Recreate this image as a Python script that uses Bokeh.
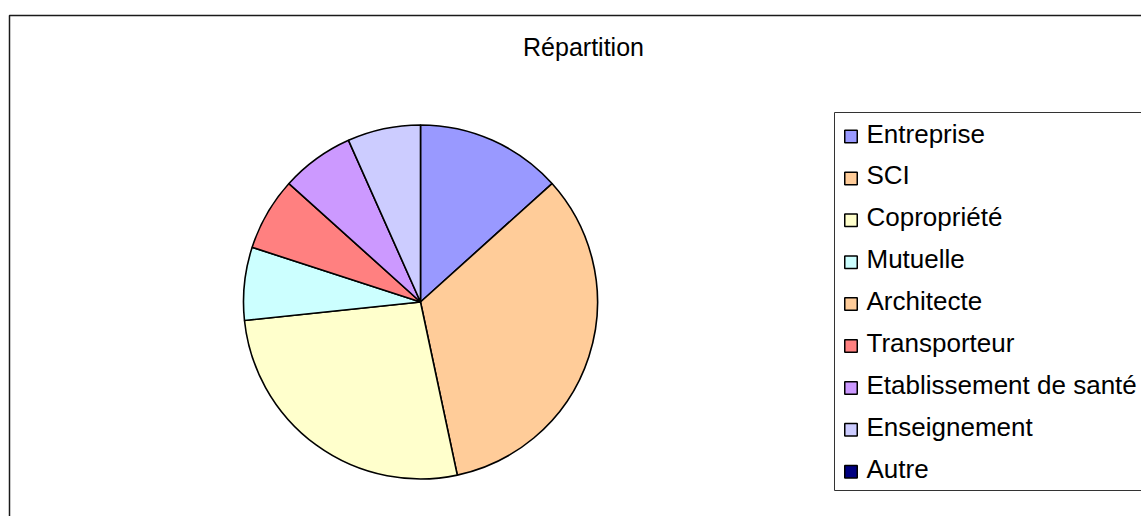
import numpy as np
from bokeh.plotting import figure
from bokeh.models import Range1d, ColumnDataSource
from bokeh.core.properties import value
from bokeh.embed import file_html
from bokeh.resources import INLINE

# ---- data ----
categories = ["Entreprise", "SCI", "Copropriété", "Mutuelle", "Architecte",
              "Transporteur", "Etablissement de santé", "Enseignement", "Autre"]
counts = [2, 5, 4, 1, 0, 1, 1, 1, 0]
colors = ["#9999FF", "#FFCC99", "#FFFFCC", "#CCFFFF", "#FFCC99",
          "#FF8080", "#CC99FF", "#CCCCFF", "#000080"]
title_text = "Répartition"

# ---- layout (figure pixels == data units) ----
W, H = 1141, 516
def sx(X):
    return X
def sy(Y):
    return H - Y

p = figure(width=W, height=H, x_range=Range1d(0, W), y_range=Range1d(0, H),
           output_backend="svg", toolbar_location=None, min_border=0,
           outline_line_color=None, background_fill_color="white",
           border_fill_color="white")
p.axis.visible = False
p.grid.visible = False

FONT = value("Liberation Sans")
TXT_DY = 9  # svg baseline correction

# outer chart frame (top and left edges; the rest lies outside the view)
p.line(x=[sx(9), sx(9), sx(1200)], y=[sy(700), sy(15), sy(15)],
       line_color="#1a1a1a", line_width=1.5)

# title
p.text(x=[sx(583)], y=[sy(55 - TXT_DY)], text=[title_text], text_font=FONT,
       text_font_size="25px", text_align="center", text_baseline="alphabetic",
       text_color="black")

# pie
vals = np.array(counts, dtype=float)
frac = vals / vals.sum()
cum_end = np.cumsum(frac) * 2 * np.pi
cum_start = cum_end - frac * 2 * np.pi
mask = vals > 0
src = ColumnDataSource(dict(
    start=(np.pi / 2 - cum_end)[mask],
    end=(np.pi / 2 - cum_start)[mask],
    color=np.array(colors)[mask],
    cat=np.array(categories)[mask],
))
p.wedge(x=sx(420), y=sy(301.5), radius=177, start_angle="start", end_angle="end",
        direction="anticlock", fill_color="color", line_color="black",
        line_width=1.6, source=src)

# legend box (top, left, bottom edges)
p.line(x=[sx(1200), sx(834), sx(834), sx(1200)],
       y=[sy(112), sy(112), sy(490), sy(490)],
       line_color="#333333", line_width=1)

n = len(categories)
baselines = [142 + 41.9 * i for i in range(n)]
lsrc = ColumnDataSource(dict(
    sqx=[sx(850.5)] * n,
    sqy=[sy(b - 6) for b in baselines],
    tx=[sx(866)] * n,
    ty=[sy(b - TXT_DY) for b in baselines],
    color=colors,
    cat=categories,
))
p.rect(x="sqx", y="sqy", width=12.5, height=12.5, fill_color="color",
       line_color="black", line_width=1.5, source=lsrc)
p.text(x="tx", y="ty", text="cat", text_font=FONT, text_font_size="26px",
       text_baseline="alphabetic", text_color="black", source=lsrc)

open("out.html", "w").write(file_html(p, INLINE))
